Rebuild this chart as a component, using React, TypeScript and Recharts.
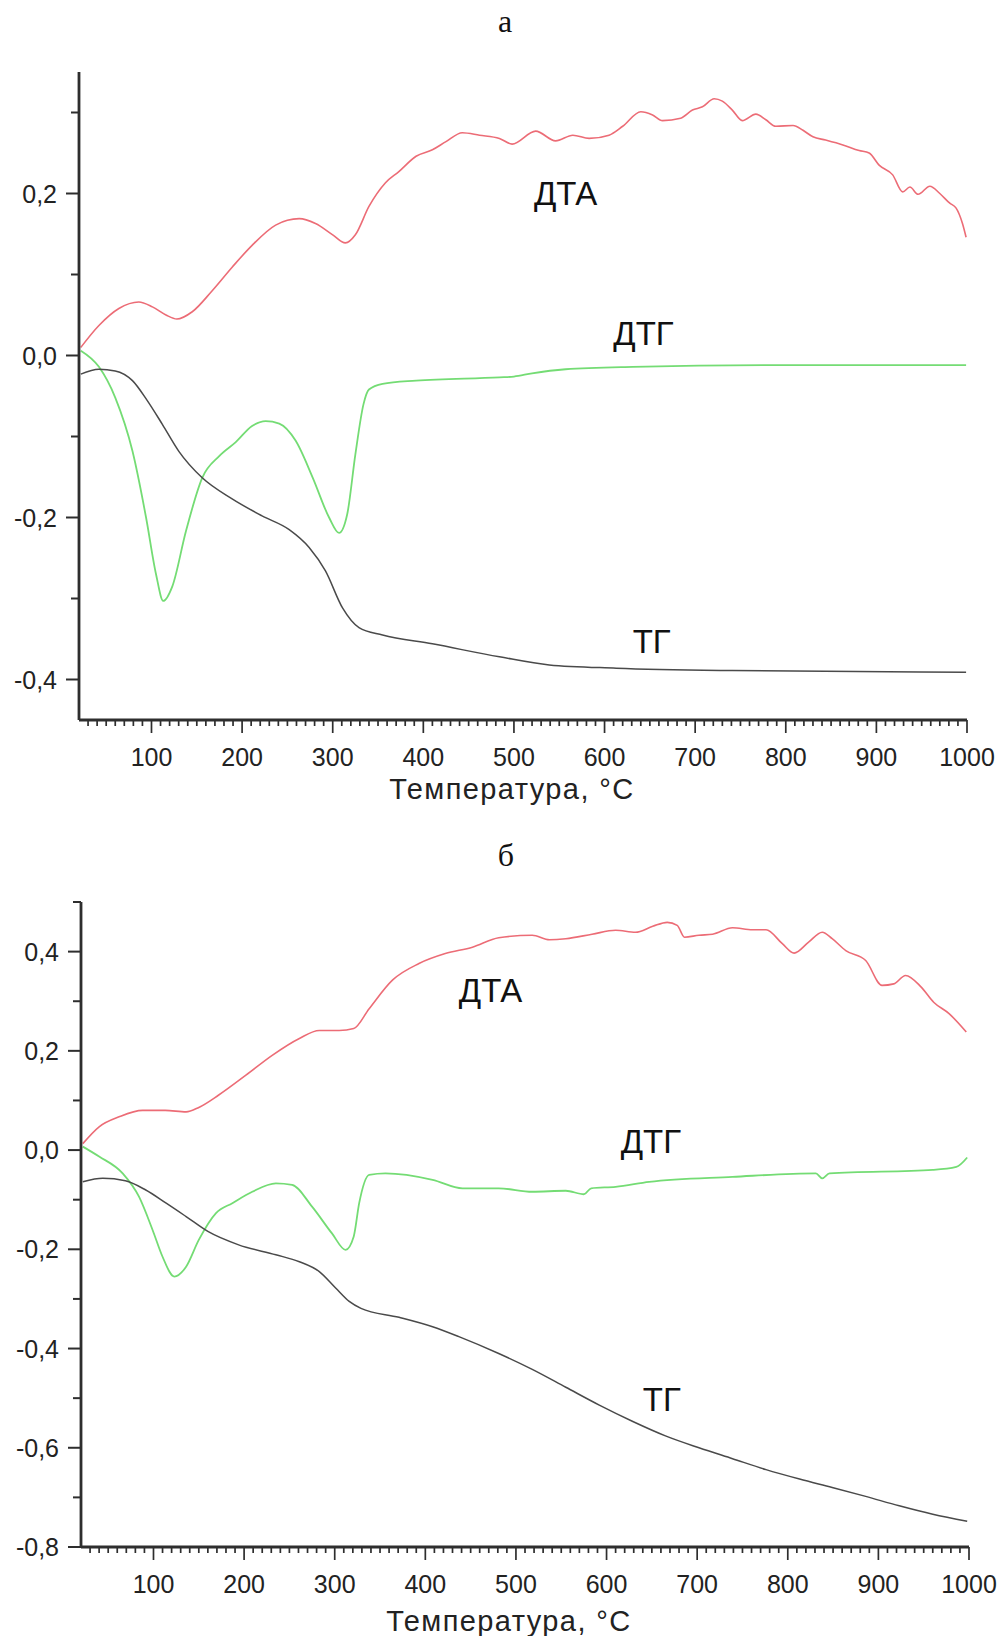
import React from 'react';
import { LineChart, Line, XAxis, YAxis, ReferenceDot } from 'recharts';

// ---------- Chart "а" ----------
const aDtaT = [22, 42, 64, 86, 101, 116, 128, 145, 167, 189, 211, 237, 263, 281, 300, 314, 325, 340, 358, 373, 392, 410, 425, 443, 462, 484, 498, 524, 546, 565, 583, 605, 620, 640, 653, 664, 684, 697, 708, 721, 730, 741, 752, 767, 778, 789, 808, 819, 830, 844, 863, 881, 892, 903, 918, 929, 937, 946, 959, 970, 981, 988, 995, 999];
const aDtaV = [0.010, 0.037, 0.058, 0.066, 0.060, 0.050, 0.045, 0.054, 0.080, 0.109, 0.136, 0.161, 0.169, 0.163, 0.149, 0.139, 0.149, 0.184, 0.213, 0.227, 0.246, 0.254, 0.264, 0.275, 0.272, 0.268, 0.261, 0.277, 0.265, 0.272, 0.268, 0.272, 0.283, 0.301, 0.297, 0.290, 0.293, 0.303, 0.307, 0.317, 0.314, 0.303, 0.290, 0.298, 0.291, 0.283, 0.284, 0.278, 0.270, 0.266, 0.260, 0.253, 0.250, 0.235, 0.223, 0.202, 0.208, 0.199, 0.209, 0.200, 0.188, 0.182, 0.163, 0.146];

const aDtgT = [22, 42, 60, 79, 94, 105, 113, 123, 138, 156, 175, 193, 211, 226, 241, 259, 278, 296, 307, 316, 325, 334, 340, 355, 392, 484, 500, 520, 557, 631, 778, 999];
const aDtgV = [0.006, -0.014, -0.052, -0.118, -0.200, -0.270, -0.303, -0.285, -0.217, -0.151, -0.124, -0.107, -0.087, -0.081, -0.084, -0.105, -0.151, -0.200, -0.219, -0.196, -0.122, -0.060, -0.042, -0.035, -0.031, -0.027, -0.026, -0.022, -0.017, -0.014, -0.012, -0.012];

const aTgT = [22, 42, 60, 79, 95, 112, 130, 156, 189, 222, 252, 274, 292, 311, 329, 355, 410, 484, 539, 613, 741, 999];
const aTgV = [-0.023, -0.017, -0.019, -0.031, -0.055, -0.085, -0.118, -0.151, -0.177, -0.198, -0.215, -0.237, -0.266, -0.312, -0.336, -0.345, -0.356, -0.372, -0.382, -0.386, -0.389, -0.391];

// ---------- Chart "б" ----------
const bDtaT = [22, 40, 62, 88, 113, 136, 150, 172, 202, 231, 261, 283, 305, 321, 338, 364, 393, 422, 452, 481, 518, 537, 555, 584, 610, 632, 651, 667, 678, 686, 702, 717, 739, 761, 776, 794, 807, 823, 838, 849, 864, 886, 904, 917, 930, 947, 961, 978, 997];
const bDtaV = [0.013, 0.047, 0.067, 0.080, 0.080, 0.077, 0.086, 0.111, 0.151, 0.191, 0.225, 0.241, 0.241, 0.245, 0.285, 0.343, 0.376, 0.396, 0.409, 0.428, 0.433, 0.424, 0.426, 0.435, 0.443, 0.439, 0.451, 0.459, 0.453, 0.429, 0.433, 0.435, 0.448, 0.444, 0.444, 0.416, 0.397, 0.419, 0.439, 0.426, 0.402, 0.382, 0.332, 0.335, 0.352, 0.329, 0.298, 0.275, 0.238];

const bDtgT = [22, 40, 66, 84, 99, 110, 123, 136, 150, 169, 187, 209, 235, 253, 275, 297, 312, 321, 327, 338, 356, 408, 441, 481, 518, 555, 575, 583, 610, 647, 739, 831, 838, 846, 960, 986, 998];
const bDtgV = [0.007, -0.013, -0.047, -0.094, -0.161, -0.215, -0.255, -0.235, -0.181, -0.127, -0.107, -0.084, -0.067, -0.070, -0.114, -0.168, -0.201, -0.174, -0.107, -0.050, -0.047, -0.060, -0.077, -0.077, -0.084, -0.082, -0.089, -0.077, -0.074, -0.064, -0.054, -0.047, -0.057, -0.047, -0.040, -0.034, -0.015];

const bTgT = [22, 44, 69, 91, 114, 136, 160, 194, 235, 261, 283, 301, 316, 329, 371, 408, 437, 481, 518, 555, 592, 629, 665, 702, 739, 776, 813, 849, 886, 923, 960, 998];
const bTgV = [-0.064, -0.057, -0.062, -0.080, -0.107, -0.134, -0.164, -0.191, -0.211, -0.225, -0.245, -0.278, -0.305, -0.319, -0.337, -0.356, -0.376, -0.410, -0.442, -0.478, -0.514, -0.547, -0.576, -0.600, -0.622, -0.644, -0.663, -0.680, -0.698, -0.717, -0.734, -0.748];

// ---------- ticks ----------
const xMajorTicks = [100, 200, 300, 400, 500, 600, 700, 800, 900, 1000];
const xAllTicks = Array.from({ length: 98 }, (_, i) => 30 + i * 10);
const aYTicksTenths = [-4, -3, -2, -1, 0, 1, 2, 3];
const bYTicksTenths = [-8, -7, -6, -5, -4, -3, -2, -1, 0, 1, 2, 3, 4, 5];

const zip = (ts: number[], vs: number[]) => ts.map((t, i) => ({ t, v: vs[i] }));

const SANS = "'Liberation Sans', Arial, sans-serif";
const SERIF = "'Liberation Serif', 'Times New Roman', serif";
const AXIS = '#2e2e2e';
const RED = '#ec6c76';
const GREEN = '#74dc74';
const GRAY = '#4a4a4a';

const fmtY = (v: number) => {
  const r = Math.round(v * 10) / 10;
  if (r === 0) return '0,0';
  return r.toFixed(1).replace('.', ',');
};

const XTick = (props: any) => {
  const { x, y, payload } = props;
  const v = Math.round(payload.value);
  const major = xMajorTicks.includes(v);
  return (
    <g>
      <line x1={x} x2={x} y1={y} y2={y + (major ? 13 : 6)} stroke={AXIS} strokeWidth={1.7} />
      {major && (
        <text x={x} y={y + 46} textAnchor="middle" fontSize={25} fontFamily={SANS} fill="#222">
          {v}
        </text>
      )}
    </g>
  );
};

const YTick = (props: any) => {
  const { x, y, payload } = props;
  const tenths = Math.round(payload.value * 10);
  const major = tenths % 2 === 0;
  const len = major ? 13 : 8;
  return (
    <g>
      <line x1={x - len} x2={x} y1={y} y2={y} stroke={AXIS} strokeWidth={2} />
      {major && (
        <text x={x - len - 9} y={y} dy="0.36em" textAnchor="end" fontSize={25} fontFamily={SANS} fill="#222">
          {fmtY(payload.value)}
        </text>
      )}
    </g>
  );
};

const seriesLabel = (text: string) => ({
  value: text,
  position: 'center' as const,
  fontSize: 33,
  fontFamily: SANS,
  fill: '#111',
});

type Panel = {
  top: number;
  height: number;
  margin: { top: number; right: number; left: number; bottom: number };
  yWidth: number;
  xHeight: number;
  yDomain: [number, number];
  yTicks: number[];
  dta: { t: number; v: number }[];
  dtg: { t: number; v: number }[];
  tg: { t: number; v: number }[];
  labels: { text: string; t: number; v: number }[];
};

const panels: Panel[] = [
  {
    top: 0,
    height: 820,
    margin: { top: 72, right: 33, left: 0, bottom: 0 },
    yWidth: 79,
    xHeight: 100,
    yDomain: [-0.45, 0.35],
    yTicks: aYTicksTenths.map((n) => n / 10),
    dta: zip(aDtaT, aDtaV),
    dtg: zip(aDtgT, aDtgV),
    tg: zip(aTgT, aTgV),
    labels: [
      { text: 'ДТА', t: 557, v: 0.2 },
      { text: 'ДТГ', t: 643, v: 0.028 },
      { text: 'ТГ', t: 652, v: -0.353 },
    ],
  },
  {
    top: 820,
    height: 816,
    margin: { top: 82, right: 31, left: 0, bottom: 0 },
    yWidth: 81,
    xHeight: 89,
    yDomain: [-0.8, 0.5],
    yTicks: bYTicksTenths.map((n) => n / 10),
    dta: zip(bDtaT, bDtaV),
    dtg: zip(bDtgT, bDtgV),
    tg: zip(bTgT, bTgV),
    labels: [
      { text: 'ДТА', t: 472, v: 0.322 },
      { text: 'ДТГ', t: 649, v: 0.018 },
      { text: 'ТГ', t: 661, v: -0.503 },
    ],
  },
];

const PanelChart = ({ p }: { p: Panel }) => (
  <div style={{ position: 'absolute', left: 0, top: p.top, width: 1000, height: p.height }}>
    <LineChart width={1000} height={p.height} margin={p.margin}>
      <XAxis
        type="number"
        dataKey="t"
        domain={[20, 1000]}
        ticks={xAllTicks}
        interval={0}
        tick={<XTick />}
        tickLine={false}
        tickSize={0}
        tickMargin={0}
        height={p.xHeight}
        axisLine={{ stroke: AXIS, strokeWidth: 2.8 }}
        allowDataOverflow
      />
      <YAxis
        type="number"
        domain={p.yDomain}
        ticks={p.yTicks}
        interval={0}
        tick={<YTick />}
        tickLine={false}
        tickSize={0}
        tickMargin={0}
        width={p.yWidth}
        axisLine={{ stroke: AXIS, strokeWidth: 2.8 }}
        allowDataOverflow
      />
      <Line data={p.dta} dataKey="v" type="monotone" stroke={RED} strokeWidth={1.6} dot={false} activeDot={false} isAnimationActive={false} />
      <Line data={p.dtg} dataKey="v" type="monotone" stroke={GREEN} strokeWidth={1.8} dot={false} activeDot={false} isAnimationActive={false} />
      <Line data={p.tg} dataKey="v" type="monotone" stroke={GRAY} strokeWidth={1.5} dot={false} activeDot={false} isAnimationActive={false} />
      {p.labels.map((l) => (
        <ReferenceDot key={l.text} x={l.t} y={l.v} r={0} fill="none" stroke="none" label={seriesLabel(l.text)} />
      ))}
    </LineChart>
  </div>
);

export default function App() {
  return (
    <div style={{ position: 'absolute', left: 0, top: 0, width: 1000, height: 1636, background: '#fff' }}>
      {panels.map((p, i) => (
        <PanelChart key={i} p={p} />
      ))}
      <svg width={1000} height={1636} style={{ position: 'absolute', left: 0, top: 0, pointerEvents: 'none' }}>
        <text x={505} y={32} textAnchor="middle" fontSize={32} fontFamily={SERIF} fill="#111">а</text>
        <text x={506} y={866} textAnchor="middle" fontSize={32} fontFamily={SERIF} fill="#111">б</text>
        <text x={512} y={799} textAnchor="middle" fontSize={29} letterSpacing={1.4} fontFamily={SANS} fill="#222">Температура, °C</text>
        <text x={509} y={1631} textAnchor="middle" fontSize={29} letterSpacing={1.4} fontFamily={SANS} fill="#222">Температура, °C</text>
      </svg>
    </div>
  );
}
